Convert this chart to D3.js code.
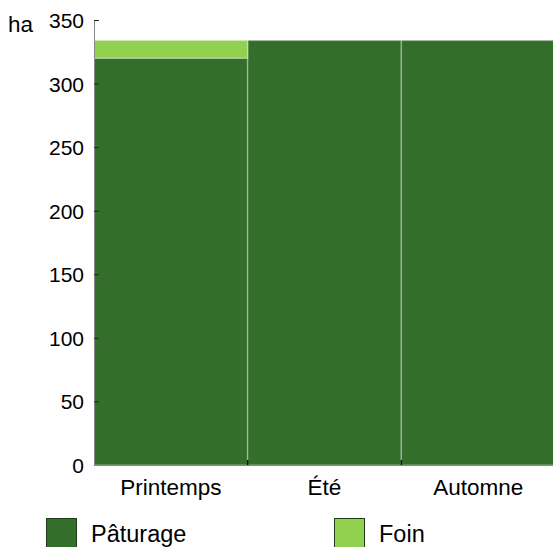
<!DOCTYPE html>
<html><head><meta charset="utf-8">
<script src="https://cdn.jsdelivr.net/npm/d3@7"></script>
<style>body{margin:0;background:#fff;overflow:hidden}svg{display:block}</style>
</head><body>
<svg id="c" width="553" height="547"></svg>
<script>
const categories = ["Printemps", "Été", "Automne"];
const paturage = [320, 334, 334];
const foin = [14, 0, 0];
const seriesNames = ["Pâturage", "Foin"];
const seriesColors = ["#336e2b", "#92d050"];
const yTicks = [0, 50, 100, 150, 200, 250, 300, 350];

const svg = d3.select("#c");
const font = "Liberation Sans, Arial, sans-serif";
const x = d3.scaleBand().domain(categories).range([94, 555]).padding(0);
const y = d3.scaleLinear().domain([0, 350]).range([465, 20]);

const data = categories.map((c, i) => ({cat: c, Pâturage: paturage[i], Foin: foin[i]}));
const stack = d3.stack().keys(seriesNames)(data);

svg.append("g").selectAll("g").data(stack).join("g")
  .attr("fill", (d, i) => seriesColors[i])
  .selectAll("rect").data(d => d.filter(p => p[1] > p[0])).join("rect")
  .attr("x", d => x(d.data.cat))
  .attr("y", d => y(d[1]))
  .attr("width", x.bandwidth())
  .attr("height", d => y(d[0]) - y(d[1]))
  .attr("stroke", "rgba(255,255,255,0.3)")
  .attr("stroke-width", 1.5);

// y axis
const ya = svg.append("g").attr("transform", "translate(94,0)")
  .call(d3.axisRight(y).tickValues(yTicks).tickSize(5).tickFormat(""));
ya.select(".domain").attr("stroke", "#888").attr("d", "M0.5,20V465.5");
ya.selectAll(".tick line").attr("stroke", "#222");
svg.append("g").selectAll("text").data(yTicks).join("text")
  .attr("x", 84).attr("y", d => y(d) + 8)
  .attr("text-anchor", "end").attr("font-family", font).attr("font-size", 21)
  .attr("fill", "#000").text(d => d);

// x axis
const xa = svg.append("g").attr("transform", "translate(0,465)");
xa.append("line").attr("x1", 94).attr("x2", 553).attr("y1", 0.5).attr("y2", 0.5).attr("stroke", "#888");
xa.selectAll(".xt").data(categories.slice(1)).join("line")
  .attr("x1", d => x(d)).attr("x2", d => x(d)).attr("y1", -5).attr("y2", 0)
  .attr("stroke", "#111").attr("stroke-width", 1.5);
xa.selectAll("text").data(categories).join("text")
  .attr("x", d => x(d) + x.bandwidth() / 2).attr("y", 30)
  .attr("text-anchor", "middle").attr("font-family", font).attr("font-size", 22.5)
  .text(d => d);

svg.append("text").attr("x", 8).attr("y", 32).attr("font-family", font).attr("font-size", 22.5).text("ha");

// legend
const lx = [46, 334];
const lg = svg.append("g").selectAll("g").data(seriesNames).join("g")
  .attr("transform", (d, i) => `translate(${lx[i]},518)`);
lg.append("rect").attr("x", 0.5).attr("y", 0.5).attr("width", 30).attr("height", 31)
  .attr("fill", (d, i) => seriesColors[i]).attr("stroke", "#1f3d18").attr("stroke-width", 1);
lg.append("text").attr("x", 45).attr("y", 24).attr("font-family", font).attr("font-size", 23.5).text(d => d);
</script>
</body></html>
